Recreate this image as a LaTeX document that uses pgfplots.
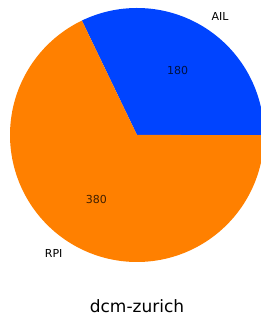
\documentclass[border=0pt]{standalone}
\usepackage{pgfplots}
\pgfplotsset{compat=1.18}
\usepackage{fontspec}
\setmainfont{DejaVu Sans}
\definecolor{ailblue}{RGB}{0,68,255}
\definecolor{rpiorange}{RGB}{255,128,0}
\def\ail{180}
\def\rpi{380}
\begin{document}
\begin{tikzpicture}[x=1pt,y=1pt]
\pgfmathsetmacro\angA{360*(\ail/(\ail+\rpi))}
\pgfmathsetmacro\midA{\angA/2}
\pgfmathsetmacro\midB{(\angA+360)/2}
\pgfmathsetmacro\lax{1.1*cos(\midA)}
\pgfmathsetmacro\lay{1.1*sin(\midA)}
\pgfmathsetmacro\pax{0.6*cos(\midA)}
\pgfmathsetmacro\pay{0.6*sin(\midA)}
\pgfmathsetmacro\lbx{1.1*cos(\midB)}
\pgfmathsetmacro\lby{1.1*sin(\midB)}
\pgfmathsetmacro\pbx{0.6*cos(\midB)}
\pgfmathsetmacro\pby{0.6*sin(\midB)}
\useasboundingbox (0,0) rectangle (261,315);
\clip (0,0) rectangle (261,315);
\begin{axis}[hide axis, scale only axis, width=254pt, height=254pt,
  xmin=-1, xmax=1, ymin=-1, ymax=1, anchor=center, at={(137pt,180pt)}, clip=false]
\addplot[fill=ailblue, draw=none, domain=0:\angA, samples=200, variable=\t]
  ({cos(\t)},{sin(\t)}) -- (axis cs:0,0) -- cycle;
\addplot[fill=rpiorange, draw=none, domain=\angA:360, samples=300, variable=\t]
  ({cos(\t)},{sin(\t)}) -- (axis cs:0,0) -- cycle;
\node[anchor=west, font=\fontsize{11}{13}\selectfont, inner sep=0pt] at (axis cs:\lax,\lay) {AIL};
\node[anchor=east, font=\fontsize{11}{13}\selectfont, inner sep=0pt] at (axis cs:\lbx,\lby) {RPI};
\node[font=\fontsize{11}{13}\selectfont, inner sep=0pt, text opacity=0.75] at (axis cs:\pax,\pay) {180};
\node[font=\fontsize{11}{13}\selectfont, inner sep=0pt, text opacity=0.75] at (axis cs:\pbx,\pby) {380};
\end{axis}
\node[font=\fontsize{17}{20}\selectfont, inner sep=0pt] at (137,8.5) {dcm-zurich};
\end{tikzpicture}
\end{document}
